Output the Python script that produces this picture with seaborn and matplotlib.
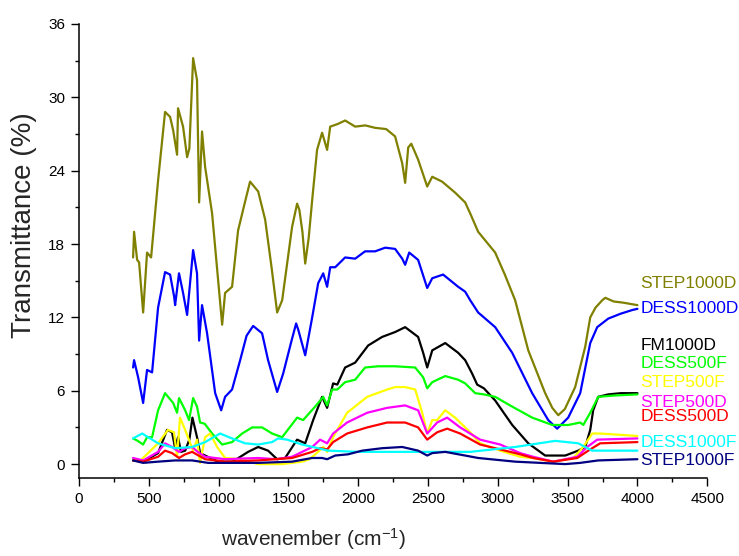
import matplotlib
matplotlib.use("Agg")
import matplotlib.pyplot as plt
from matplotlib.ticker import MultipleLocator
import seaborn as sns
import pandas as pd

# ---- data ----
names = ["STEP1000D", "DESS1000D", "FM1000D", "DESS500F", "STEP500F",
         "STEP500D", "DESS500D", "DESS1000F", "STEP1000F"]
colors = ["#808000", "#0000FF", "#000000", "#00FF00", "#FFFF00",
          "#FF00FF", "#FF0000", "#00FFFF", "#000080"]

step1000d_x = [387, 394, 416, 430, 459, 487, 516, 566, 616, 652, 674, 702, 709, 745, 774, 790, 817, 845, 860, 881,
               903, 953, 1025, 1046, 1096, 1139, 1190, 1225, 1283, 1333, 1380, 1419, 1455, 1526, 1562, 1578, 1600,
               1620, 1645, 1670, 1705, 1741, 1777, 1799, 1850, 1906, 1978, 2050, 2121, 2200, 2264, 2315, 2336, 2358,
               2380, 2429, 2494, 2530, 2601, 2694, 2766, 2802, 2859, 2981, 3050, 3124, 3218, 3339, 3390, 3433, 3480,
               3554, 3626, 3662, 3700, 3748, 3770, 3830, 3900, 4000]
step1000d_y = [16.9, 19.0, 16.7, 16.5, 12.4, 17.3, 16.9, 23.2, 28.8, 28.4, 27.3, 25.3, 29.1, 27.6, 25.1, 25.8, 33.2,
               31.4, 21.4, 27.2, 24.3, 20.5, 11.4, 14.0, 14.5, 19.1, 21.5, 23.1, 22.3, 20.0, 16.0, 12.4, 13.4, 19.4,
               21.3, 20.8, 19.0, 16.4, 18.5, 21.6, 25.7, 27.1, 25.7, 27.6, 27.8, 28.1, 27.6, 27.7, 27.5, 27.4, 26.8,
               24.6, 23.0, 25.9, 26.2, 24.9, 22.7, 23.5, 23.1, 22.2, 21.4, 20.5, 19.0, 17.3, 15.5, 13.4, 9.3, 5.8,
               4.6, 4.0, 4.5, 6.3, 9.6, 12.0, 12.8, 13.4, 13.6, 13.3, 13.2, 13.0]

dess1000d_x = [387, 394, 423, 459, 487, 523, 566, 616, 652, 681, 688, 716, 745, 774, 817, 845, 860, 881, 917, 975,
               1018, 1046, 1096, 1154, 1200, 1247, 1311, 1354, 1419, 1462, 1520, 1555, 1570, 1620, 1670, 1713, 1749,
               1777, 1799, 1835, 1906, 1978, 2049, 2121, 2193, 2264, 2315, 2336, 2365, 2429, 2494, 2530, 2608, 2716,
               2766, 2802, 2859, 2981, 3103, 3246, 3361, 3425, 3504, 3590, 3662, 3712, 3791, 3880, 3963, 4000]
dess1000d_y = [7.9, 8.5, 7.1, 5.0, 7.7, 7.5, 12.8, 15.7, 15.5, 13.7, 13.0, 15.6, 14.0, 12.2, 17.5, 15.6, 10.1, 13.0,
               10.7, 5.8, 4.4, 5.5, 6.1, 8.5, 10.5, 11.3, 10.7, 8.5, 5.9, 7.4, 10.0, 11.5, 11.0, 8.9, 12.0, 14.8, 15.6,
               14.5, 16.1, 16.1, 16.9, 16.8, 17.4, 17.4, 17.7, 17.6, 16.8, 16.3, 17.3, 16.7, 14.4, 15.2, 15.5, 14.5,
               14.1, 13.4, 12.4, 11.2, 9.1, 5.8, 3.6, 2.9, 3.8, 5.8, 9.9, 11.2, 11.9, 12.3, 12.6, 12.7]

fm1000d_x = [387, 459, 566, 630, 666, 688, 709, 730, 760, 790, 812, 845, 867, 903, 996, 1100, 1211, 1283, 1354,
             1419, 1476, 1562, 1620, 1677, 1741, 1777, 1820, 1850, 1906, 1978, 2071, 2171, 2264, 2336, 2429, 2465,
             2494, 2530, 2623, 2716, 2766, 2816, 2852, 2900, 2981, 3103, 3218, 3339, 3483, 3576, 3626, 3662, 3683,
             3719, 3791, 3880, 4000]
fm1000d_y = [0.3, 0.2, 0.9, 2.8, 2.6, 1.3, 2.2, 1.0, 1.1, 2.0, 3.8, 2.2, 0.9, 0.7, 0.2, 0.2, 1.0, 1.4, 1.1, 0.4,
             0.5, 2.0, 1.7, 3.6, 5.5, 4.6, 6.6, 6.5, 7.9, 8.3, 9.7, 10.4, 10.8, 11.2, 10.4, 9.1, 7.9, 9.3, 9.9, 9.1,
             8.5, 7.4, 6.5, 6.2, 5.2, 3.2, 1.7, 0.7, 0.7, 1.1, 1.4, 2.8, 4.4, 5.5, 5.7, 5.8, 5.8]

dess500f_x = [387, 420, 459, 487, 523, 566, 616, 674, 702, 716, 760, 788, 817, 845, 867, 900, 953, 1025, 1096, 1168,
              1240, 1311, 1383, 1455, 1562, 1605, 1691, 1749, 1777, 1813, 1850, 1906, 1978, 2049, 2143, 2264, 2408,
              2465, 2494, 2530, 2623, 2716, 2766, 2838, 2900, 2981, 3103, 3246, 3390, 3504, 3590, 3612, 3662, 3719,
              3820, 4000]
dess500f_y = [2.1, 1.9, 1.6, 2.2, 2.2, 4.4, 5.8, 5.0, 4.2, 5.4, 4.4, 3.6, 5.4, 4.7, 3.4, 3.3, 2.5, 1.6, 1.8, 2.5,
              3.0, 3.0, 2.5, 2.2, 3.8, 3.6, 4.7, 5.5, 4.8, 6.1, 6.1, 6.7, 6.9, 7.9, 8.0, 8.0, 7.9, 7.1, 6.2, 6.7, 7.2,
              6.9, 6.6, 5.8, 5.7, 5.5, 4.7, 3.8, 3.2, 3.2, 3.4, 3.2, 4.2, 5.5, 5.6, 5.7]

step500f_x = [387, 440, 566, 637, 680, 702, 723, 760, 817, 845, 867, 903, 939, 989, 1046, 1150, 1283, 1455, 1598,
              1650, 1713, 1750, 1777, 1820, 1920, 2064, 2207, 2264, 2336, 2408, 2458, 2494, 2530, 2565, 2623, 2694,
              2730, 2802, 2873, 3017, 3160, 3253, 3397, 3540, 3612, 3676, 3733, 4000]
step500f_y = [0.3, 0.3, 1.7, 2.8, 2.6, 0.6, 3.8, 2.8, 1.1, 2.0, 0.1, 2.2, 2.5, 1.4, 0.5, 0.4, 0.0, 0.0, 0.2, 0.4,
              1.0, 1.4, 1.0, 2.2, 4.2, 5.5, 6.1, 6.3, 6.3, 6.1, 4.2, 2.5, 3.6, 3.6, 4.4, 3.8, 3.4, 2.6, 1.7, 1.1, 0.6,
              0.5, 0.2, 0.5, 1.4, 2.5, 2.5, 2.3]

step500d_x = [387, 459, 566, 616, 666, 716, 760, 810, 850, 903, 1046, 1283, 1412, 1526, 1670, 1727, 1777, 1820,
              1920, 2064, 2207, 2336, 2429, 2494, 2565, 2637, 2730, 2873, 3017, 3160, 3253, 3397, 3569, 3640, 3712,
              4000]
step500d_y = [0.5, 0.3, 1.0, 1.7, 1.4, 1.0, 1.3, 1.4, 1.0, 0.6, 0.4, 0.5, 0.4, 0.6, 1.4, 2.0, 1.7, 2.5, 3.4, 4.2,
              4.6, 4.8, 4.4, 2.5, 3.4, 3.8, 3.0, 2.0, 1.6, 0.9, 0.6, 0.2, 0.6, 1.4, 2.0, 2.1]

dess500d_x = [387, 459, 566, 616, 666, 716, 760, 810, 903, 1046, 1283, 1526, 1670, 1727, 1777, 1820, 1920, 2064,
              2207, 2336, 2429, 2494, 2565, 2637, 2730, 2873, 3017, 3160, 3253, 3397, 3569, 3648, 3733, 4000]
dess500d_y = [0.3, 0.2, 0.6, 1.1, 0.9, 0.5, 0.8, 1.0, 0.4, 0.2, 0.3, 0.5, 1.0, 1.3, 1.2, 1.8, 2.5, 3.0, 3.4, 3.4,
              3.0, 2.0, 2.6, 2.9, 2.5, 1.6, 1.2, 0.8, 0.5, 0.2, 0.5, 1.1, 1.7, 1.8]

dess1000f_x = [387, 452, 495, 566, 688, 810, 903, 1010, 1096, 1190, 1283, 1383, 1426, 1490, 1598, 1713, 1784, 2000,
               2264, 2802, 3124, 3411, 3576, 3676, 4000]
dess1000f_y = [2.1, 2.5, 2.2, 1.7, 1.3, 1.4, 1.8, 2.5, 2.1, 1.7, 1.6, 1.8, 2.1, 2.0, 1.6, 1.3, 1.1, 1.0, 1.0, 1.0,
               1.4, 1.9, 1.7, 1.1, 1.1]

step1000f_x = [387, 459, 566, 688, 810, 925, 1283, 1526, 1670, 1741, 1777, 1835, 1927, 2028, 2171, 2315, 2429, 2494,
               2530, 2623, 2766, 2859, 3124, 3483, 3590, 3719, 4000]
step1000f_y = [0.3, 0.1, 0.2, 0.3, 0.3, 0.1, 0.1, 0.2, 0.5, 0.5, 0.4, 0.7, 0.8, 1.1, 1.3, 1.4, 1.1, 0.7, 0.9, 1.0,
               0.7, 0.5, 0.2, 0.0, 0.1, 0.3, 0.4]

series_x = [step1000d_x, dess1000d_x, fm1000d_x, dess500f_x, step500f_x,
            step500d_x, dess500d_x, dess1000f_x, step1000f_x]
series_y = [step1000d_y, dess1000d_y, fm1000d_y, dess500f_y, step500f_y,
            step500d_y, dess500d_y, dess1000f_y, step1000f_y]

# label anchor heights (layout of the in-plot labels)
label_y = [14.8, 12.76, 9.74, 8.26, 6.71, 5.07, 3.93, 1.80, 0.33]

x_ticks = [0, 500, 1000, 1500, 2000, 2500, 3000, 3500, 4000, 4500]
y_ticks = [0, 6, 12, 18, 24, 30, 36]

# ---- style ----
sns.set_theme(style="ticks")
plt.rcParams['font.family'] = ['Liberation Sans', 'DejaVu Sans']
plt.rcParams['mathtext.default'] = 'regular'

fig = plt.figure(figsize=(7.39, 5.56), dpi=100)
ax = fig.add_axes([0.107, 0.140, 0.850, 0.817])

frames = []
for n, xs, ys in zip(names, series_x, series_y):
    frames.append(pd.DataFrame({"wavenumber": xs, "T": ys, "sample": n}))
df = pd.concat(frames, ignore_index=True)

for n, c in zip(names, colors):
    sub = df[df["sample"] == n]
    sns.lineplot(data=sub, x="wavenumber", y="T", color=c, linewidth=1.6,
                 ax=ax, legend=False, estimator=None, sort=False)

for n, c, ly in zip(names, colors, label_y):
    ax.text(4020, ly, n, color=c, fontsize=12.5, va='center', ha='left', clip_on=False)

ax.set_xlim(0, 4500)
ax.set_ylim(-1.15, 36)
ax.set_xticks(x_ticks)
ax.set_yticks(y_ticks)
ax.xaxis.set_minor_locator(MultipleLocator(250))
ax.yaxis.set_minor_locator(MultipleLocator(3))
ax.tick_params(which='major', direction='out', length=6, width=1.0, labelsize=11, color='black', labelcolor='black', pad=4)
ax.tick_params(which='minor', direction='out', length=3, width=1.0, color='black')
for s in ['top', 'right']:
    ax.spines[s].set_visible(False)
for s in ['left', 'bottom']:
    ax.spines[s].set_linewidth(1.1)
    ax.spines[s].set_color('black')

ax.set_xlabel(r'wavenember (cm$^{-1}$)', fontsize=15)
ax.set_ylabel('Transmittance (%)', fontsize=20)
ax.xaxis.set_label_coords(0.373, -0.105)
ax.yaxis.set_label_coords(-0.067, 0.557)

fig.savefig("out.png", dpi=100)
